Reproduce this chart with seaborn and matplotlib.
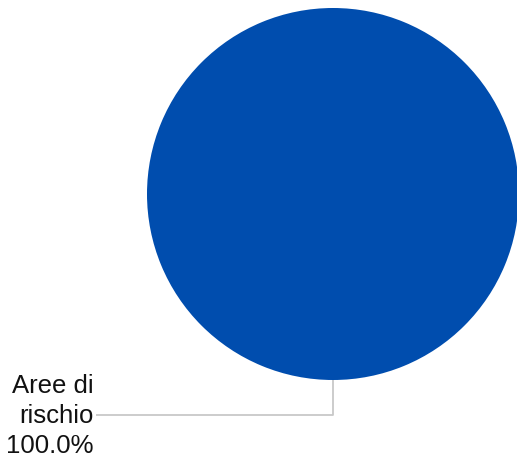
import matplotlib
matplotlib.use("Agg")
import matplotlib.pyplot as plt
import seaborn as sns
import textwrap

categories = ["Aree di rischio"]
values = [100.0]
colors = ["#004DAE"]

sns.set_theme(style="white")
plt.rcParams['font.family'] = ['Liberation Sans', 'DejaVu Sans']

fig = plt.figure(figsize=(5.17, 4.61), dpi=100)
ax = fig.add_axes([0, 0, 1, 1])
ax.set_xlim(0, 517)
ax.set_ylim(461, 0)
ax.set_aspect('equal')
ax.axis('off')

cx, cy, r = 333, 194, 186
ax.pie(values, colors=colors, center=(cx, cy), radius=r, startangle=90,
       counterclock=False, wedgeprops=dict(linewidth=0))
ax.set_xlim(0, 517)
ax.set_ylim(461, 0)

total = sum(values)
label = textwrap.fill(categories[0], width=7) + "\n" + f"{values[0] / total * 100:.1f}%"
ax.plot([cx, cx, 96], [cy + r, 415, 415], color="#c8c8c8", linewidth=1.3,
        solid_capstyle='butt', zorder=1)
ax.text(94, 416, label, ha='right', va='center', fontsize=18.5,
        color="#111111", linespacing=1.3)

fig.savefig("out.png", dpi=100)
